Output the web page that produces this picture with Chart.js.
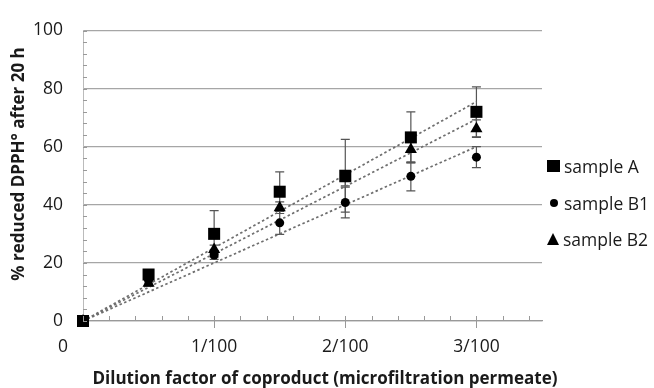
<!DOCTYPE html>
<html>
<head>
<meta charset="utf-8">
<script src="https://cdn.jsdelivr.net/npm/chart.js@4.4.1/dist/chart.umd.min.js"></script>
<style>
    body { margin: 0; background: #fff; }
    #wrap { position: relative; width: 654px; height: 388px; }
    #legend { position: absolute; left: 547px; top: 155px; font-family: "Open Sans", sans-serif; font-size: 17.5px; color: #1a1a1a; }
    #legend div { height: 36.5px; line-height: 22px; white-space: nowrap; }
    .mk { display: inline-block; margin-right: 4px; vertical-align: middle; position: relative; top: -2px; }
    .sq { width: 13px; height: 12px; background: #000; }
    .ci { width: 8px; height: 8px; background: #000; border-radius: 50%; margin-left: 3px; margin-right: 6px; }
    .tr { width: 0; height: 0; border-left: 6.5px solid transparent; border-right: 6.5px solid transparent; border-bottom: 12px solid #000; }
</style>
</head>
<body>
<div id="wrap">
    <canvas id="chart" width="654" height="388"></canvas>
    <div id="legend">
        <div><span class="mk sq"></span>sample A</div>
        <div><span class="mk ci"></span>sample B1</div>
        <div><span class="mk tr"></span>sample B2</div>
    </div>
</div>
<script>
// dilution factor (x/100)
let dilution = [0, 0.5, 1, 1.5, 2, 2.5, 3];
let xTickVals = [0, 1, 2, 3];
let xTickLabels = ["0", "1/100", "2/100", "3/100"];

let sampleA = [0, 16, 30, 44.5, 50, 63.2, 72];
let sampleB1 = [0, 14, 22.7, 33.8, 40.8, 49.8, 56.4];
let sampleB2 = [0, 13, 24.6, 39, 49, 59, 66.2];

let errA = [0, 1, 8, 6.8, 12.5, 8.8, 8.6];
let errB1 = [0, 1, 1.5, 4, 5.3, 5, 3.6];
let errB2 = [0, 1, 1.5, 2, 2.5, 4.5, 3];

// linear trend (through origin), start/end
let trendX = [0, 3];
let trendA = [0, 75.5];
let trendB1 = [0, 60];
let trendB2 = [0, 69.5];

const toPts = (xs, ys) => xs.map((x, i) => ({ x: x, y: ys[i] }));

function trendSet(ys) {
    return {
        type: "line",
        data: toPts(trendX, ys),
        borderColor: "#6e6e6e",
        borderWidth: 1.7,
        borderDash: [2.5, 2.5],
        pointRadius: 0,
        fill: false
    };
}

const errorBars = {
    id: "errorBars",
    beforeDatasetsDraw(chart) {
        const ctx = chart.ctx;
        const xs = chart.scales.x, ys = chart.scales.y;
        ctx.save();
        ctx.strokeStyle = "#555";
        ctx.lineWidth = 1.2;
        [[sampleA, errA], [sampleB1, errB1], [sampleB2, errB2]].forEach(([vals, errs]) => {
            vals.forEach((v, i) => {
                if (!errs[i]) return;
                const px = xs.getPixelForValue(dilution[i]);
                const top = ys.getPixelForValue(v + errs[i]);
                const bot = ys.getPixelForValue(v - errs[i]);
                ctx.beginPath();
                ctx.moveTo(px, top); ctx.lineTo(px, bot);
                ctx.moveTo(px - 4.5, top); ctx.lineTo(px + 4.5, top);
                ctx.moveTo(px - 4.5, bot); ctx.lineTo(px + 4.5, bot);
                ctx.stroke();
            });
        });
        ctx.restore();
    }
};

const extras = {
    id: "extras",
    afterDraw(chart) {
        const ctx = chart.ctx;
        const xs = chart.scales.x, ys = chart.scales.y;
        const area = chart.chartArea;
        ctx.save();
        ctx.strokeStyle = "#999";
        ctx.lineWidth = 1;
        // x minor / major tick marks
        for (let k = 0; k <= 17; k++) {
            const v = k * 0.2;
            const px = Math.round(xs.getPixelForValue(v)) + 0.5;
            const major = k % 5 === 0 && k > 0;
            ctx.beginPath();
            ctx.moveTo(px, area.bottom - 5);
            ctx.lineTo(px, major ? area.bottom + 7 : area.bottom);
            ctx.stroke();
        }
        // y minor tick marks
        for (let v = 0; v <= 100; v += 4) {
            const py = Math.round(ys.getPixelForValue(v)) + 0.5;
            ctx.beginPath();
            ctx.moveTo(area.left, py);
            ctx.lineTo(area.left + 4, py);
            ctx.stroke();
        }
        // "0" label of x axis, set off to the left as in the original
        ctx.fillStyle = "#1a1a1a";
        ctx.font = "17.5px 'Open Sans'";
        ctx.textAlign = "center";
        ctx.textBaseline = "middle";
        ctx.fillText("0", area.left - 20, 347);

        // axis titles
        ctx.font = "bold 17px 'Open Sans'";
        ctx.fillText("Dilution factor of coproduct (microfiltration permeate)", 325, 379);
        ctx.translate(19, 164);
        ctx.rotate(-Math.PI / 2);
        ctx.fillText("% reduced DPPH° after 20 h", 0, 0);
        ctx.restore();
    }
};

new Chart(document.getElementById("chart"), {
    type: "scatter",
    data: {
        datasets: [
            { label: "sample A", data: toPts(dilution, sampleA), pointStyle: "rect", pointRadius: 8.5, backgroundColor: "#000", borderColor: "#000", borderWidth: 0, clip: false },
            { label: "sample B2", data: toPts(dilution, sampleB2), pointStyle: "triangle", pointRadius: 7, backgroundColor: "#000", borderColor: "#000", borderWidth: 0, clip: false },
            { label: "sample B1", data: toPts(dilution, sampleB1), pointStyle: "circle", pointRadius: 4.5, backgroundColor: "#000", borderColor: "#000", borderWidth: 0, clip: false },
            trendSet(trendA),
            trendSet(trendB2),
            trendSet(trendB1)
        ]
    },
    options: {
        responsive: false,
        animation: false,
        layout: { padding: { top: 22, right: 112, left: 0, bottom: 0 } },
        plugins: { legend: { display: false }, tooltip: { enabled: false } },
        scales: {
            x: {
                type: "linear",
                min: 0,
                max: 3.5,
                afterBuildTicks: (scale) => { scale.ticks = xTickVals.map(v => ({ value: v })); },
                afterFit: (scale) => { scale.height = 67; },
                ticks: {
                    padding: 16,
                    font: { family: "Open Sans", size: 17.5 },
                    color: "#1a1a1a",
                    callback: (v) => { const i = xTickVals.indexOf(v); return i > 0 ? xTickLabels[i] : ""; }
                },
                grid: { display: false, drawTicks: false },
                border: { display: true, color: "#999", width: 1.2 }
            },
            y: {
                min: 0,
                max: 100,
                afterFit: (scale) => { scale.width = 83; },
                ticks: {
                    stepSize: 20,
                    padding: 20,
                    font: { family: "Open Sans", size: 17.5 },
                    color: "#1a1a1a"
                },
                grid: { color: "#a6a6a6", lineWidth: 1.2, drawTicks: false },
                border: { display: true, color: "#bbb", width: 1 }
            }
        }
    },
    plugins: [errorBars, extras]
});
</script>
</body>
</html>
